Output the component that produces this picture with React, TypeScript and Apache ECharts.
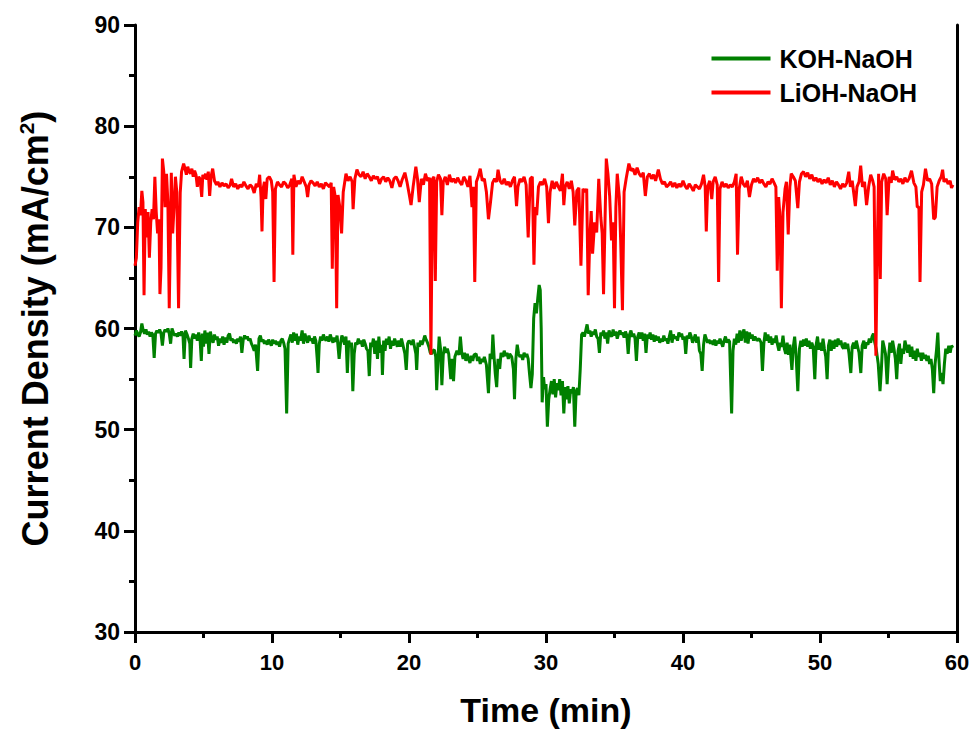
import React, { useEffect, useRef } from "react";
import * as echarts from "echarts";

const seriesNames = ["KOH-NaOH", "LiOH-NaOH"];
const xTicks = [0, 10, 20, 30, 40, 50, 60];
const yTicks = [30, 40, 50, 60, 70, 80, 90];

// [time (min), current density (mA/cm2)]
const kohNaoh: [number, number][] = [
  [0.0,59.3],[0.1,59.8],[0.2,59.5],[0.3,59.2],[0.4,59.6],[0.5,60.5],[0.6,59.8],[0.7,59.5],[0.8,59.9],[0.9,59.4],
  [1.0,59.7],[1.1,59.2],[1.2,59.6],[1.3,59.4],[1.4,57.1],[1.5,59.5],[1.6,59.8],[1.7,59.6],[1.8,59.9],[1.9,59.5],
  [2.0,58.3],[2.1,59.6],[2.2,59.9],[2.3,59.7],[2.4,60.0],[2.5,59.5],[2.6,58.5],[2.7,60.0],[2.8,59.6],[2.9,59.3],
  [3.0,59.5],[3.1,59.2],[3.2,59.6],[3.3,59.3],[3.4,59.7],[3.5,59.4],[3.58,57.0],[3.68,59.8],[3.8,59.4],[3.9,59.0],
  [4.0,58.5],[4.06,56.1],[4.15,59.0],[4.25,59.5],[4.35,59.0],[4.45,59.4],[4.55,58.8],[4.65,59.6],[4.75,58.9],[4.84,56.8],
  [4.92,59.5],[5.0,58.2],[5.1,59.8],[5.2,58.5],[5.3,59.6],[5.4,57.5],[5.5,59.7],[5.6,59.0],[5.7,58.6],[5.8,59.4],
  [5.9,58.9],[6.0,59.2],[6.1,58.3],[6.2,59.0],[6.3,58.6],[6.4,59.2],[6.5,58.4],[6.6,59.1],[6.7,58.6],[6.8,59.3],
  [6.9,59.5],[7.0,58.8],[7.1,59.0],[7.2,58.6],[7.3,58.9],[7.4,58.5],[7.5,59.0],[7.6,58.7],[7.7,59.2],[7.8,57.6],
  [7.9,58.9],[8.0,59.3],[8.1,59.0],[8.2,59.2],[8.3,58.8],[8.4,59.0],[8.5,58.5],[8.6,58.2],[8.7,57.8],[8.8,58.4],
  [8.95,55.8],[9.05,59.0],[9.15,59.3],[9.25,58.7],[9.35,58.9],[9.45,58.5],[9.55,58.8],[9.65,58.4],[9.75,58.9],[9.85,58.6],
  [9.95,58.3],[10.05,58.9],[10.15,58.5],[10.25,58.8],[10.35,58.4],[10.45,58.7],[10.55,58.2],[10.65,58.8],[10.75,59.0],[10.85,58.6],
  [10.95,58.0],[11.07,51.6],[11.18,58.5],[11.28,59.0],[11.38,59.4],[11.48,58.6],[11.58,59.6],[11.68,58.8],[11.78,59.5],[11.88,58.4],
  [11.98,59.2],[12.08,58.8],[12.2,59.8],[12.3,58.5],[12.4,59.5],[12.5,59.0],[12.6,58.6],[12.7,59.3],[12.8,58.8],[12.9,59.0],
  [13.0,58.5],[13.1,59.2],[13.2,58.8],[13.3,57.0],[13.36,55.6],[13.45,58.5],[13.55,59.2],[13.65,58.8],[13.75,59.4],[13.85,59.0],
  [13.95,58.8],[14.05,59.2],[14.15,58.7],[14.25,59.4],[14.35,59.0],[14.45,58.6],[14.55,59.1],[14.65,58.7],[14.75,59.3],[14.9,57.0],
  [15.0,58.5],[15.1,59.3],[15.2,59.0],[15.3,58.4],[15.4,59.2],[15.5,55.6],[15.6,58.8],[15.7,58.2],[15.8,58.6],[15.9,53.8],
  [16.0,57.5],[16.1,58.6],[16.2,58.4],[16.3,59.0],[16.4,58.5],[16.5,58.8],[16.6,58.2],[16.7,58.9],[16.8,58.5],[16.9,58.0],
  [17.0,57.8],[17.1,55.3],[17.2,58.6],[17.3,58.2],[17.4,59.0],[17.5,57.5],[17.6,58.8],[17.7,57.0],[17.8,59.2],[17.9,57.6],
  [18.0,58.4],[18.06,55.4],[18.15,58.8],[18.25,57.8],[18.35,59.0],[18.45,58.4],[18.55,59.2],[18.65,58.0],[18.75,58.8],[18.85,58.3],
  [18.95,59.0],[19.05,58.6],[19.15,58.2],[19.25,58.8],[19.35,58.2],[19.45,59.0],[19.55,58.4],[19.7,57.5],[19.8,55.9],[19.9,58.5],
  [20.0,58.8],[20.1,58.6],[20.2,58.4],[20.3,58.9],[20.4,58.2],[20.5,57.5],[20.56,55.9],[20.65,58.6],[20.75,58.2],[20.85,58.8],
  [20.95,58.4],[21.05,58.8],[21.15,59.3],[21.25,58.9],[21.35,58.6],[21.45,58.2],[21.55,57.6],[21.65,57.5],[21.75,57.8],[21.85,57.9],
  [21.95,57.2],[22.02,53.9],[22.12,57.0],[22.2,59.2],[22.3,58.0],[22.4,54.4],[22.5,57.4],[22.6,58.2],[22.7,57.6],[22.8,58.0],
  [22.9,57.5],[23.05,55.0],[23.15,57.0],[23.25,54.8],[23.35,57.2],[23.5,57.8],[23.65,57.4],[23.75,59.2],[23.85,57.6],[23.95,57.0],
  [24.05,57.6],[24.15,56.8],[24.25,57.5],[24.35,57.0],[24.45,56.6],[24.55,57.3],[24.65,56.8],[24.75,57.4],[24.9,57.5],[25.0,56.8],
  [25.1,57.2],[25.2,56.5],[25.3,57.0],[25.4,56.7],[25.5,57.2],[25.65,56.4],[25.8,53.6],[25.92,57.5],[26.05,57.0],[26.12,59.4],
  [26.22,57.0],[26.3,55.5],[26.4,54.2],[26.5,57.0],[26.62,56.0],[26.72,57.6],[26.85,57.2],[26.95,57.8],[27.05,57.3],[27.15,57.6],
  [27.25,57.0],[27.35,57.5],[27.5,57.2],[27.62,56.0],[27.7,53.0],[27.8,57.0],[27.9,58.4],[28.0,57.5],[28.1,57.2],[28.2,57.4],
  [28.3,56.9],[28.4,57.6],[28.5,57.2],[28.6,57.5],[28.7,57.0],[28.8,55.5],[28.9,54.1],[29.0,55.5],[29.1,61.0],[29.2,62.5],
  [29.3,61.5],[29.4,63.0],[29.5,64.3],[29.58,63.8],[29.65,60.0],[29.72,52.7],[29.82,55.2],[29.9,54.0],[30.0,54.5],[30.1,50.3],
  [30.2,53.0],[30.3,54.0],[30.4,54.8],[30.5,53.5],[30.6,55.0],[30.7,53.2],[30.8,54.6],[30.9,53.9],[31.0,55.0],[31.1,53.4],
  [31.2,54.8],[31.3,51.6],[31.4,54.2],[31.5,53.0],[31.6,54.3],[31.7,52.6],[31.8,54.0],[31.9,53.6],[32.0,54.2],[32.1,50.3],
  [32.2,53.8],[32.3,54.1],[32.4,53.4],[32.5,56.0],[32.6,59.4],[32.7,59.6],[32.8,59.2],[32.9,59.8],[33.0,60.4],[33.1,59.5],
  [33.2,59.8],[33.3,59.2],[33.4,59.7],[33.5,59.4],[33.6,59.9],[33.7,59.2],[33.8,59.0],[33.9,57.6],[34.0,59.6],[34.1,59.3],
  [34.2,59.8],[34.3,59.0],[34.4,59.6],[34.5,58.5],[34.6,59.8],[34.7,59.4],[34.8,59.2],[34.9,59.9],[35.0,59.3],[35.1,59.7],
  [35.2,59.0],[35.3,59.5],[35.4,59.8],[35.5,59.4],[35.6,59.6],[35.7,59.1],[35.8,59.7],[35.9,59.3],[36.0,57.5],[36.1,59.4],
  [36.2,59.8],[36.3,59.2],[36.4,59.5],[36.5,59.0],[36.6,56.8],[36.7,59.2],[36.8,59.6],[36.9,59.0],[37.0,59.6],[37.1,58.8],
  [37.2,59.5],[37.3,57.6],[37.4,59.4],[37.5,59.0],[37.6,59.6],[37.7,58.9],[37.8,59.4],[37.9,58.7],[38.0,59.3],[38.1,58.8],
  [38.2,59.2],[38.3,58.6],[38.4,59.0],[38.5,58.7],[38.6,59.3],[38.7,58.8],[38.8,59.0],[38.9,58.5],[39.0,59.2],[39.1,59.8],
  [39.2,58.6],[39.3,59.4],[39.4,59.0],[39.5,59.2],[39.6,58.8],[39.7,59.6],[39.8,59.2],[39.9,59.5],[40.0,58.9],[40.1,59.2],
  [40.2,57.5],[40.3,59.3],[40.4,59.0],[40.5,59.6],[40.6,59.2],[40.7,58.6],[40.8,59.0],[40.9,59.4],[41.0,58.6],[41.1,59.2],
  [41.2,57.8],[41.3,57.5],[41.4,55.8],[41.5,58.4],[41.6,59.4],[41.7,59.0],[41.8,58.6],[41.9,58.9],[42.0,58.5],[42.1,58.8],
  [42.2,58.4],[42.3,58.9],[42.4,58.3],[42.5,58.8],[42.6,58.5],[42.7,59.0],[42.8,58.6],[42.9,58.2],[43.0,58.8],[43.1,59.2],
  [43.2,58.6],[43.3,58.9],[43.4,58.7],[43.55,51.6],[43.65,57.8],[43.75,59.0],[43.85,58.4],[43.95,59.5],[44.05,58.6],[44.15,59.8],
  [44.25,58.8],[44.35,59.5],[44.45,59.9],[44.55,58.6],[44.65,59.7],[44.75,58.5],[44.85,59.6],[44.95,59.0],[45.05,59.4],[45.15,58.8],
  [45.25,59.2],[45.4,58.8],[45.55,59.0],[45.7,58.6],[45.8,55.8],[45.9,58.5],[46.0,59.6],[46.1,58.8],[46.2,59.4],[46.3,58.6],
  [46.4,59.2],[46.5,58.4],[46.6,59.0],[46.7,58.6],[46.8,59.3],[46.9,58.4],[47.0,57.8],[47.1,58.6],[47.2,58.2],[47.3,59.3],
  [47.4,58.0],[47.5,57.5],[47.6,58.6],[47.7,57.4],[47.8,58.4],[47.95,55.9],[48.05,58.2],[48.15,59.2],[48.25,57.5],[48.38,53.8],
  [48.5,58.0],[48.6,58.8],[48.7,58.2],[48.8,58.9],[48.9,58.3],[49.0,59.0],[49.1,58.2],[49.2,58.8],[49.3,58.0],[49.4,58.6],
  [49.5,58.2],[49.62,55.0],[49.72,58.4],[49.82,59.2],[49.92,57.9],[50.02,58.6],[50.12,57.8],[50.22,59.0],[50.32,58.0],[50.42,57.2],
  [50.52,55.0],[50.62,58.3],[50.72,58.9],[50.82,57.8],[50.92,58.8],[51.02,58.0],[51.12,58.9],[51.22,58.2],[51.32,59.0],[51.42,58.4],
  [51.52,58.8],[51.62,58.2],[51.72,58.0],[51.82,58.6],[51.92,58.0],[52.02,58.5],[52.12,57.5],[52.25,55.6],[52.35,58.2],[52.45,58.6],
  [52.55,58.0],[52.65,58.8],[52.75,58.2],[52.85,57.6],[52.98,55.6],[53.08,58.3],[53.2,58.8],[53.3,58.0],[53.4,58.6],[53.5,58.4],
  [53.6,59.0],[53.7,58.6],[53.8,59.2],[53.9,59.5],[54.0,58.6],[54.1,58.0],[54.25,56.5],[54.38,53.8],[54.48,56.0],[54.58,58.8],
  [54.68,58.2],[54.78,57.5],[54.9,54.5],[55.0,57.0],[55.1,58.6],[55.2,57.6],[55.3,58.8],[55.4,58.0],[55.5,57.0],[55.6,55.0],
  [55.7,57.8],[55.8,58.5],[55.9,56.5],[56.0,58.0],[56.1,57.5],[56.2,58.8],[56.3,58.2],[56.4,57.6],[56.5,58.4],[56.6,57.2],
  [56.7,58.2],[56.8,57.0],[56.9,57.8],[57.0,56.8],[57.1,58.0],[57.2,57.2],[57.3,57.6],[57.4,56.8],[57.5,57.6],[57.6,57.0],
  [57.7,57.4],[57.8,56.8],[57.9,57.3],[58.0,56.5],[58.1,57.0],[58.2,56.0],[58.3,53.6],[58.4,56.5],[58.5,57.8],[58.6,59.6],
  [58.68,57.0],[58.78,54.8],[58.88,55.6],[58.98,54.5],[59.08,56.5],[59.18,58.0],[59.28,57.5],[59.4,58.3],[59.5,57.6],[59.6,58.3],
  [59.7,58.1]
];

const liohNaoh: [number, number][] = [
  [0.0,66.2],[0.1,67.0],[0.2,70.5],[0.3,72.0],[0.4,71.2],[0.5,73.6],[0.58,72.5],[0.66,63.3],[0.75,71.8],[0.85,69.0],
  [0.95,71.5],[1.05,67.0],[1.15,70.5],[1.25,71.8],[1.35,70.8],[1.45,75.0],[1.55,71.5],[1.65,69.4],[1.75,70.8],[1.82,63.4],
  [1.9,66.0],[2.0,76.8],[2.1,75.5],[2.2,72.0],[2.3,75.3],[2.4,72.5],[2.5,62.0],[2.58,69.0],[2.65,75.4],[2.75,69.4],
  [2.85,72.0],[2.95,75.0],[3.05,73.5],[3.18,62.0],[3.3,73.4],[3.4,75.5],[3.55,76.3],[3.65,75.8],[3.75,75.2],[3.85,76.0],
  [3.95,75.5],[4.05,75.3],[4.15,75.8],[4.25,75.0],[4.35,75.6],[4.45,75.2],[4.55,74.0],[4.65,75.0],[4.75,74.8],[4.87,73.0],
  [4.95,75.2],[5.05,74.8],[5.15,75.3],[5.25,74.7],[5.35,75.5],[5.45,73.1],[5.55,75.0],[5.67,75.8],[5.8,74.6],[5.95,74.2],
  [6.05,74.5],[6.2,74.0],[6.35,74.4],[6.5,74.1],[6.65,74.3],[6.8,73.9],[6.95,74.2],[7.05,74.8],[7.2,74.0],[7.35,74.3],
  [7.5,73.8],[7.65,74.2],[7.8,74.0],[7.95,74.5],[8.1,74.1],[8.25,73.8],[8.4,74.2],[8.55,74.0],[8.7,73.4],[8.85,74.3],
  [9.0,74.0],[9.1,75.2],[9.2,73.0],[9.27,69.6],[9.35,73.8],[9.45,74.5],[9.55,72.8],[9.65,74.8],[9.8,75.0],[9.95,74.6],
  [10.05,73.5],[10.15,64.6],[10.25,73.8],[10.4,74.5],[10.55,74.2],[10.7,74.0],[10.85,74.5],[11.0,74.3],[11.15,73.9],[11.3,74.2],
  [11.45,74.8],[11.52,67.3],[11.6,75.2],[11.75,74.0],[11.9,74.6],[12.05,74.3],[12.2,75.0],[12.35,74.5],[12.5,74.0],[12.6,73.0],
  [12.7,74.2],[12.85,74.6],[13.0,74.4],[13.15,74.1],[13.3,74.5],[13.45,74.0],[13.6,74.3],[13.75,73.8],[13.9,74.4],[14.05,74.2],
  [14.2,74.0],[14.32,74.4],[14.4,65.9],[14.5,74.0],[14.62,73.0],[14.72,62.0],[14.82,73.2],[14.95,72.0],[15.08,69.4],[15.2,73.5],
  [15.4,75.3],[15.55,74.6],[15.7,75.0],[15.85,74.5],[15.92,71.8],[16.05,74.8],[16.2,75.7],[16.35,75.2],[16.5,75.0],[16.65,75.5],
  [16.8,74.8],[16.95,75.3],[17.1,75.0],[17.25,74.6],[17.4,75.1],[17.55,74.8],[17.7,75.0],[17.85,74.3],[18.0,74.8],[18.15,75.0],
  [18.3,74.5],[18.45,74.9],[18.6,74.6],[18.75,73.9],[18.9,74.8],[19.05,75.0],[19.2,74.6],[19.35,74.0],[19.5,74.7],[19.7,75.4],
  [19.85,74.5],[20.05,73.0],[20.15,72.2],[20.3,74.0],[20.5,76.0],[20.62,74.8],[20.75,72.5],[20.9,74.8],[21.05,74.2],[21.2,75.3],
  [21.35,74.6],[21.5,74.9],[21.6,57.4],[21.72,74.8],[21.82,75.0],[21.92,64.7],[22.02,74.5],[22.15,75.2],[22.3,74.8],[22.4,71.2],
  [22.5,74.5],[22.65,75.0],[22.8,74.2],[22.95,75.2],[23.1,74.5],[23.25,74.8],[23.4,74.4],[23.55,74.9],[23.7,74.5],[23.85,74.2],
  [24.0,75.0],[24.15,74.6],[24.3,74.0],[24.45,75.1],[24.6,72.0],[24.7,74.0],[24.8,64.6],[24.92,74.5],[25.05,75.0],[25.2,75.8],
  [25.35,74.6],[25.5,74.8],[25.65,73.5],[25.8,70.8],[25.95,72.5],[26.1,74.4],[26.25,74.8],[26.4,74.5],[26.5,75.7],[26.65,74.6],
  [26.8,74.3],[26.95,74.8],[27.1,74.2],[27.25,74.5],[27.4,74.0],[27.55,74.6],[27.7,75.0],[27.85,72.1],[27.95,74.0],[28.1,74.8],
  [28.25,74.5],[28.4,75.0],[28.55,74.2],[28.7,69.0],[28.85,74.8],[29.0,75.0],[29.12,66.3],[29.22,72.0],[29.32,71.2],[29.45,74.0],
  [29.6,74.5],[29.75,74.2],[29.9,74.8],[30.05,74.0],[30.18,70.4],[30.3,73.5],[30.45,74.6],[30.6,73.8],[30.75,74.5],[30.9,74.0],
  [31.05,73.6],[31.2,75.3],[31.3,72.2],[31.4,74.0],[31.55,74.5],[31.7,73.8],[31.85,74.6],[31.98,73.5],[32.1,70.2],[32.25,73.6],
  [32.4,73.9],[32.55,66.2],[32.7,73.8],[32.85,73.5],[32.97,73.8],[33.08,63.3],[33.2,69.0],[33.3,71.6],[33.4,67.4],[33.55,70.5],
  [33.7,69.5],[33.85,74.8],[34.0,71.0],[34.1,69.4],[34.2,63.4],[34.3,70.0],[34.4,76.8],[34.52,75.3],[34.65,73.0],[34.78,68.7],
  [34.9,70.5],[35.0,62.0],[35.1,72.0],[35.2,75.3],[35.35,73.0],[35.45,68.7],[35.58,61.8],[35.7,73.5],[35.85,74.8],[36.05,76.3],
  [36.2,75.6],[36.35,75.8],[36.5,75.2],[36.65,75.9],[36.8,75.3],[36.95,75.0],[37.1,75.4],[37.25,73.1],[37.4,75.0],[37.55,75.3],
  [37.7,74.8],[37.85,75.2],[38.0,74.6],[38.2,75.7],[38.35,74.8],[38.5,74.3],[38.65,74.5],[38.8,74.0],[38.95,74.2],[39.1,74.5],
  [39.25,74.0],[39.4,74.4],[39.55,73.9],[39.7,74.3],[39.85,74.0],[40.0,74.6],[40.15,74.1],[40.3,73.8],[40.45,74.3],[40.6,74.0],
  [40.75,73.6],[40.9,74.2],[41.05,74.0],[41.2,73.8],[41.35,74.3],[41.5,75.2],[41.62,74.0],[41.7,69.6],[41.8,74.0],[41.95,74.6],
  [42.1,72.8],[42.2,74.5],[42.35,75.0],[42.5,74.2],[42.6,64.6],[42.7,73.8],[42.85,74.5],[43.0,74.0],[43.15,74.3],[43.3,73.9],
  [43.45,74.2],[43.6,74.0],[43.75,74.5],[43.88,75.3],[43.98,67.3],[44.1,73.8],[44.25,75.0],[44.4,74.3],[44.55,74.0],[44.7,74.6],
  [44.85,73.0],[45.0,74.2],[45.15,74.8],[45.3,74.5],[45.45,74.9],[45.6,74.4],[45.75,74.7],[45.9,74.3],[46.05,74.0],[46.2,74.5],
  [46.35,74.3],[46.5,74.8],[46.65,74.4],[46.78,74.0],[46.88,65.7],[46.98,73.0],[47.08,71.0],[47.18,62.0],[47.3,71.5],[47.45,73.8],
  [47.55,74.5],[47.68,69.3],[47.8,74.0],[47.9,75.3],[48.05,75.0],[48.2,74.6],[48.38,71.9],[48.5,74.5],[48.65,75.3],[48.8,75.5],
  [48.95,75.0],[49.1,75.4],[49.25,74.8],[49.4,75.2],[49.55,74.6],[49.7,74.9],[49.85,74.5],[50.0,74.8],[50.15,74.3],[50.3,74.7],
  [50.45,74.4],[50.6,74.9],[50.75,74.2],[50.9,74.6],[51.05,74.0],[51.2,74.5],[51.35,74.2],[51.5,73.8],[51.65,74.3],[51.8,74.0],
  [51.95,74.4],[52.1,75.5],[52.22,74.0],[52.35,74.6],[52.5,73.0],[52.58,72.1],[52.7,74.0],[52.85,74.5],[52.97,76.1],[53.1,74.0],
  [53.25,74.5],[53.4,72.2],[53.55,74.0],[53.7,75.2],[53.85,74.6],[53.95,74.0],[54.08,57.3],[54.18,68.0],[54.28,75.3],[54.4,64.9],
  [54.5,74.5],[54.65,75.3],[54.8,74.8],[54.9,71.2],[55.05,75.0],[55.2,74.4],[55.3,75.6],[55.45,74.7],[55.6,75.0],[55.75,74.5],
  [55.9,74.8],[56.05,74.3],[56.2,74.9],[56.35,74.5],[56.5,74.8],[56.68,75.6],[56.85,74.4],[57.0,74.0],[57.1,72.0],[57.22,72.0],
  [57.3,64.6],[57.42,73.5],[57.55,74.2],[57.7,75.8],[57.85,74.6],[58.0,74.8],[58.15,74.3],[58.3,70.8],[58.42,71.0],[58.55,74.0],
  [58.7,74.6],[58.85,75.0],[58.95,75.7],[59.05,74.5],[59.2,74.8],[59.35,74.3],[59.5,74.6],[59.6,73.9],[59.7,74.2]
];

const FONT = '"Liberation Sans", Arial, Helvetica, sans-serif';

export default function App() {
  const ref = useRef<HTMLDivElement>(null);
  useEffect(() => {
    if (!ref.current) return;
    const chart = echarts.init(ref.current, undefined, { renderer: "svg" });
    const axisLine = { show: true, lineStyle: { color: "#000", width: 3 } };
    const tickStyle = { color: "#000", width: 3 };
    chart.setOption({
      animation: false,
      backgroundColor: "#fff",
      textStyle: { fontFamily: FONT },
      grid: { left: 135, right: 16, top: 25, bottom: 102, containLabel: false },
      legend: {
        data: seriesNames.map((n) => ({ name: n, icon: "rect" })),
        orient: "vertical",
        right: 51,
        top: 41,
        itemWidth: 59,
        itemHeight: 4,
        itemGap: 9,
        textStyle: { fontFamily: FONT, fontWeight: "bold", fontSize: 25, color: "#000", padding: [0, 0, 0, 4] },
      },
      xAxis: {
        type: "value",
        min: xTicks[0],
        max: xTicks[xTicks.length - 1],
        interval: 10,
        name: "Time (min)",
        nameLocation: "middle",
        nameGap: 61,
        nameTextStyle: { fontFamily: FONT, fontWeight: "bold", fontSize: 34, color: "#000" },
        axisLine,
        axisTick: { show: true, inside: false, length: 11, lineStyle: tickStyle },
        minorTick: { show: true, splitNumber: 2, length: 6, lineStyle: tickStyle },
        splitLine: { show: false },
        axisLabel: { fontFamily: FONT, fontWeight: "bold", fontSize: 22, color: "#000", margin: 19 },
      },
      yAxis: [
        {
          type: "value",
          min: yTicks[0],
          max: yTicks[yTicks.length - 1],
          interval: 10,
          name: "Current Density (mA/cm{sup|2})",
          nameLocation: "middle",
          nameRotate: 90,
          nameGap: 80,
          nameTextStyle: {
            fontFamily: FONT,
            fontWeight: "bold",
            fontSize: 36,
            color: "#000",
            rich: {
              sup: { fontFamily: FONT, fontWeight: "bold", fontSize: 21, color: "#000", verticalAlign: "top", padding: [0, 0, 18, 0] },
            },
          },
          axisLine,
          axisTick: { show: true, inside: false, length: 11, lineStyle: tickStyle },
          minorTick: { show: true, splitNumber: 2, length: 6, lineStyle: tickStyle },
          splitLine: { show: false },
          axisLabel: { fontFamily: FONT, fontWeight: "bold", fontSize: 23, color: "#000", margin: 15 },
        },
        {
          type: "value",
          position: "right",
          min: yTicks[0],
          max: yTicks[yTicks.length - 1],
          interval: 10,
          axisLine,
          axisTick: { show: false },
          axisLabel: { show: false },
          splitLine: { show: false },
        },
      ],
      series: [
        {
          name: seriesNames[0],
          type: "line",
          data: kohNaoh,
          symbol: "none",
          lineStyle: { color: "#008000", width: 3 },
          itemStyle: { color: "#008000" },
        },
        {
          name: seriesNames[1],
          type: "line",
          data: liohNaoh,
          symbol: "none",
          lineStyle: { color: "#ff0000", width: 3 },
          itemStyle: { color: "#ff0000" },
        },
      ],
    });
    return () => chart.dispose();
  }, []);
  return <div ref={ref} style={{ position: "fixed", left: 0, top: 0, width: 973, height: 734 }} />;
}
